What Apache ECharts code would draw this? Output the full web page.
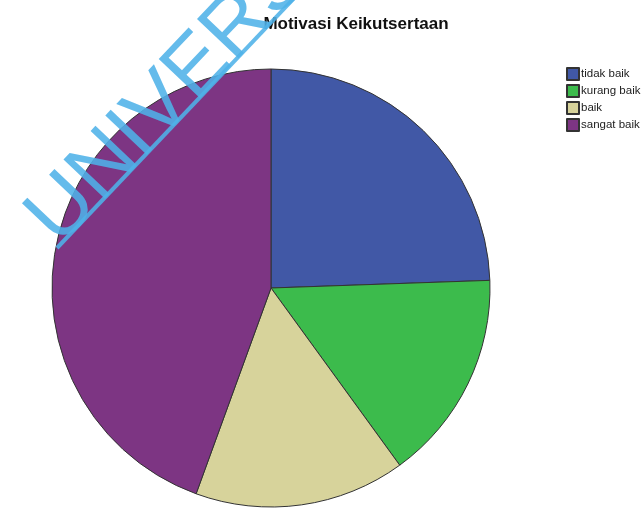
<!DOCTYPE html>
<html>
<head>
<meta charset="utf-8">
<script src="https://cdn.jsdelivr.net/npm/echarts@6/dist/echarts.min.js"></script>
<style>
  html, body { margin: 0; padding: 0; background: #fff; }
  #chart { width: 641px; height: 510px; }
</style>
</head>
<body>
<div id="chart"></div>
<script>
// Category names and counts per category
const categories = ['tidak baik', 'kurang baik', 'baik', 'sangat baik'];
const counts = [11, 7, 7, 20];
const colors = ['#4158a6', '#3cbb4c', '#d7d39b', '#7d3583'];

const chart = echarts.init(document.getElementById('chart'), null, { renderer: 'canvas' });

const markColor = 'rgba(78, 178, 232, 0.88)';

chart.setOption({
  animation: false,
  backgroundColor: '#ffffff',
  title: {
    text: 'Motivasi Keikutsertaan',
    left: 351, top: 11, textAlign: 'center',
    textStyle: { fontFamily: 'Liberation Sans, Arial, sans-serif', fontSize: 17, fontWeight: 'bold', color: '#111' }
  },
  legend: {
    orient: 'vertical',
    left: 566, top: 67,
    padding: 0,
    itemWidth: 12, itemHeight: 12, itemGap: 3,
    icon: 'rect',
    textStyle: { fontFamily: 'Liberation Sans, Arial, sans-serif', fontSize: 11.5, lineHeight: 12, color: '#222', padding: [0, 0, 0, -3] },
    data: categories
  },
  series: [{
    type: 'pie',
    center: [271, 288],
    radius: 219,
    startAngle: 90,
    clockwise: true,
    label: { show: false },
    labelLine: { show: false },
    emphasis: { disabled: true },
    itemStyle: { borderColor: '#333', borderWidth: 1 },
    data: categories.map((name, i) => ({ name, value: counts[i], itemStyle: { color: colors[i] } }))
  }],
  graphic: [{
    type: 'group',
    x: 57, y: 248,
    rotation: 46.5 * Math.PI / 180,
    z: 100,
    children: [
      {
        type: 'text',
        z: 100,
        x: 2, y: -22,
        style: {
          text: 'UNIVERSITAS',
          fontFamily: 'Liberation Sans, Arial, sans-serif',
          fontSize: 83,
          fill: markColor,
          textAlign: 'left',
          textVerticalAlign: 'middle'
        }
      },
      {
        type: 'line',
        z: 100,
        shape: { x1: 0, y1: 0, x2: 700, y2: 0 },
        style: { stroke: markColor, lineWidth: 4 }
      }
    ]
  }]
});
</script>
</body>
</html>
